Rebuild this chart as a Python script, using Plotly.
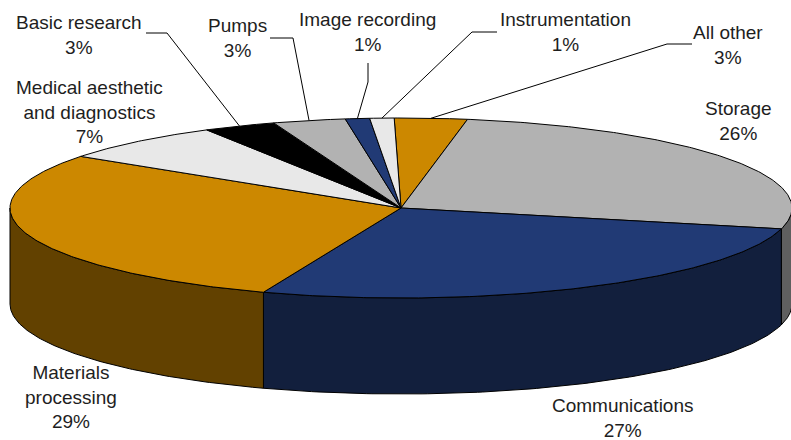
import numpy as np
import plotly.graph_objects as go

# Market shares, listed clockwise starting from the 12 o'clock position
categories = ["All other", "Storage", "Communications", "Materials processing",
              "Medical aesthetic and diagnostics", "Basic research", "Pumps",
              "Image recording", "Instrumentation"]
shares = [3, 26, 27, 29, 7, 3, 3, 1, 1]
label_text = ["All other", "Storage", "Communications", "Materials<br>processing",
              "Medical aesthetic<br>and diagnostics", "Basic research", "Pumps",
              "Image recording", "Instrumentation"]

# Face colours (top) and shaded colours for the visible rim
top_colors = ["#CC8800", "#B2B2B2", "#213A75", "#CC8800", "#E8E8E8",
              "#000000", "#B2B2B2", "#213A75", "#E8E8E8"]
side_colors = ["#624100", "#5F5F5F", "#121F3D", "#624100", "#6F6F6F",
               "#000000", "#5F5F5F", "#121F3D", "#6F6F6F"]

# Geometry of the tilted disc (pixel space)
W, H = 791, 440
CX, CY, RX, RY, DEPTH = 401, 208, 391, 90, 96
START = -1.0

# Label placement: text centre, and leader path from the label toward the rim
label_pos = {
    "All other": (728, 45),
    "Storage": (738, 121),
    "Communications": (623, 418),
    "Materials processing": (71, 397),
    "Medical aesthetic and diagnostics": (89, 112),
    "Basic research": (79, 35),
    "Pumps": (237, 38),
    "Image recording": (367, 32),
    "Instrumentation": (565, 32),
}
leader_path = {
    "All other": [(692, 44), (667, 44)],
    "Basic research": [(146, 33), (167, 33)],
    "Pumps": [(270, 38), (293, 38)],
    "Image recording": [(368, 63), (368, 82)],
    "Instrumentation": [(497, 32), (472, 32)],
}


def rim(theta_deg, drop=0.0):
    t = np.radians(theta_deg)
    return CX + RX * np.sin(t), CY - RY * np.cos(t) + drop


total = float(sum(shares))
bounds = START + 360.0 * np.concatenate([[0.0], np.cumsum(shares)]) / total

fig = go.Figure()
outline = dict(color="#000000", width=1)

# Visible side walls (front half of the disc)
for i, name in enumerate(categories):
    a, b = bounds[i], bounds[i + 1]
    lo, hi = max(a, 90.0), min(b, 270.0)
    if lo >= hi:
        continue
    th = np.linspace(lo, hi, 120)
    xt, yt = rim(th)
    xb, yb = rim(th[::-1], DEPTH)
    xs = np.concatenate([xt, xb, xt[:1]])
    ys = np.concatenate([yt, yb, yt[:1]])
    fig.add_trace(go.Scatter(x=xs, y=ys, mode="lines", fill="toself",
                             fillcolor=side_colors[i], line=outline,
                             hoverinfo="skip"))

# Top faces of the slices
for i, name in enumerate(categories):
    a, b = bounds[i], bounds[i + 1]
    th = np.linspace(a, b, max(4, int((b - a) * 2)))
    xr, yr = rim(th)
    xs = np.concatenate([[CX], xr, [CX]])
    ys = np.concatenate([[CY], yr, [CY]])
    fig.add_trace(go.Scatter(x=xs, y=ys, mode="lines", fill="toself",
                             fillcolor=top_colors[i], line=outline,
                             hoverinfo="skip"))

# Leader lines from labels to slice rims
for i, name in enumerate(categories):
    if name not in leader_path:
        continue
    mid = 0.5 * (bounds[i] + bounds[i + 1])
    ex, ey = rim(mid)
    pts = leader_path[name] + [(float(ex), float(ey))]
    fig.add_trace(go.Scatter(x=[p[0] for p in pts], y=[p[1] for p in pts],
                             mode="lines", line=dict(color="#000000", width=1),
                             hoverinfo="skip"))

# Category labels with percentages
for i, name in enumerate(categories):
    x, y = label_pos[name]
    fig.add_annotation(x=x, y=y, xref="x", yref="y",
                       text=f"{label_text[i]}<br>{shares[i]}%",
                       showarrow=False, xanchor="center", yanchor="middle",
                       align="center",
                       font=dict(family="Liberation Sans, Arial, sans-serif",
                                 size=19, color="#1E1E1E"))

fig.update_layout(
    width=W, height=H,
    margin=dict(l=0, r=0, t=0, b=0),
    paper_bgcolor="white", plot_bgcolor="white",
    showlegend=False, hovermode=False,
    xaxis=dict(range=[0, W], visible=False, fixedrange=True),
    yaxis=dict(range=[H, 0], visible=False, fixedrange=True),
)

fig.write_html("out.html")
